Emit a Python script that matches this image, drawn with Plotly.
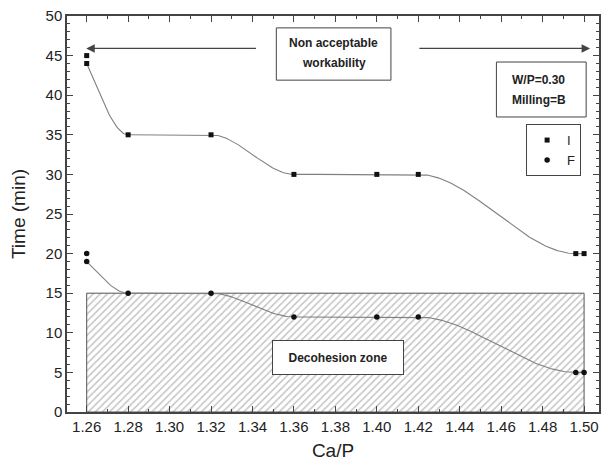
import numpy as np
import plotly.graph_objects as go

# Setting time of the cement paste versus Ca/P ratio (W/P = 0.30, milling B)
ca_p_I = [1.26, 1.26, 1.28, 1.32, 1.36, 1.40, 1.42, 1.496, 1.50]
time_I = [45, 44, 35, 35, 30, 30, 30, 20, 20]          # initial setting time (min)
ca_p_F = [1.26, 1.26, 1.28, 1.32, 1.36, 1.40, 1.42, 1.496, 1.50]
time_F = [20, 19, 15, 15, 12, 12, 12, 5, 5]            # final setting time (min)

x_ticks = [1.26, 1.28, 1.30, 1.32, 1.34, 1.36, 1.38, 1.40, 1.42, 1.44, 1.46, 1.48, 1.50]
y_ticks = [0, 5, 10, 15, 20, 25, 30, 35, 40, 45, 50]

decohesion_x = [1.26, 1.50]   # extent of the decohesion zone along Ca/P
decohesion_limit = 15         # time (min) below which the paste decoheres

FONT = "Liberation Sans, Arial, sans-serif"
INK = "#222222"
AXIS = "#444444"


def pchip(x, y, xs):
    """Shape-preserving piecewise cubic Hermite interpolation."""
    x = np.asarray(x, float)
    y = np.asarray(y, float)
    h = np.diff(x)
    d = np.diff(y) / h
    n = len(x)
    m = np.zeros(n)
    for k in range(1, n - 1):
        if d[k - 1] * d[k] > 0:
            w1 = 2 * h[k] + h[k - 1]
            w2 = h[k] + 2 * h[k - 1]
            m[k] = (w1 + w2) / (w1 / d[k - 1] + w2 / d[k])

    def end_slope(h0, h1, d0, d1):
        s = ((2 * h0 + h1) * d0 - h0 * d1) / (h0 + h1)
        if np.sign(s) != np.sign(d0):
            return 0.0
        if np.sign(d0) != np.sign(d1) and abs(s) > 3 * abs(d0):
            return 3 * d0
        return s

    m[0] = end_slope(h[0], h[1], d[0], d[1])
    m[-1] = end_slope(h[-1], h[-2], d[-1], d[-2])
    xs = np.asarray(xs, float)
    idx = np.clip(np.searchsorted(x, xs) - 1, 0, n - 2)
    t = (xs - x[idx]) / h[idx]
    h00 = 2 * t**3 - 3 * t**2 + 1
    h10 = t**3 - 2 * t**2 + t
    h01 = -2 * t**3 + 3 * t**2
    h11 = t**3 - t**2
    return (h00 * y[idx] + h10 * h[idx] * m[idx]
            + h01 * y[idx + 1] + h11 * h[idx] * m[idx + 1])


def curve(xv, yv):
    # one value per Ca/P (the last one listed), then a smooth fit through them
    pts = {}
    for a, b in zip(xv, yv):
        pts[a] = b
    xu = sorted(pts)
    yu = [pts[a] for a in xu]
    xs = np.linspace(xu[0], xu[-1], 400)
    return xs, pchip(xu, yu, xs)


fig = go.Figure()

# hatched decohesion zone
fig.add_trace(go.Scatter(
    x=[decohesion_x[0], decohesion_x[1], decohesion_x[1], decohesion_x[0], decohesion_x[0]],
    y=[0, 0, decohesion_limit, decohesion_limit, 0],
    mode="lines", fill="toself", fillcolor="white",
    fillpattern=dict(shape="/", fgcolor="#8a8a8a", bgcolor="white", size=5, solidity=0.3),
    line=dict(color="#555555", width=1),
    showlegend=False, hoverinfo="skip",
))

for xv, yv in ((ca_p_I, time_I), (ca_p_F, time_F)):
    cx, cy = curve(xv, yv)
    fig.add_trace(go.Scatter(x=cx, y=cy, mode="lines",
                             line=dict(color="#808080", width=1.1),
                             showlegend=False, hoverinfo="skip"))

fig.add_trace(go.Scatter(x=ca_p_I, y=time_I, mode="markers", name="I",
                         marker=dict(symbol="square", size=5, color="#111111")))
fig.add_trace(go.Scatter(x=ca_p_F, y=time_F, mode="markers", name="F",
                         marker=dict(symbol="circle", size=5.5, color="#111111")))

annotations = []
shapes = []

# "Non acceptable workability" label with arrows to both ends of the range
shapes.append(dict(type="rect", xref="x", yref="y", x0=1.3515, x1=1.4068, y0=41.9, y1=48.5,
                   line=dict(color=AXIS, width=1), fillcolor="white", layer="above"))
for txt, yy in (("Non acceptable", 46.6), ("workability", 44.1)):
    annotations.append(dict(x=1.3792, y=yy, xref="x", yref="y", text=txt, showarrow=False,
                            font=dict(family=FONT, size=12, color=INK, weight="bold")))
annotations.append(dict(x=1.2598, y=45.9, ax=1.3424, ay=45.9, xref="x", yref="y",
                        axref="x", ayref="y", text="", showarrow=True, arrowhead=2,
                        arrowsize=1.3, arrowwidth=1.3, arrowcolor="#444444"))
annotations.append(dict(x=1.5029, y=45.9, ax=1.4198, ay=45.9, xref="x", yref="y",
                        axref="x", ayref="y", text="", showarrow=True, arrowhead=2,
                        arrowsize=1.3, arrowwidth=1.3, arrowcolor="#444444"))

# experimental conditions
shapes.append(dict(type="rect", xref="x", yref="y", x0=1.4577, x1=1.5010, y0=37.25, y1=44.19,
                   line=dict(color=AXIS, width=1), fillcolor="white", layer="above"))
for txt, yy in (("W/P=0.30", 41.9), ("Milling=B", 39.4)):
    annotations.append(dict(x=1.4644, y=yy, xref="x", yref="y", text=txt, showarrow=False,
                            xanchor="left",
                            font=dict(family=FONT, size=12, color=INK, weight="bold")))

# decohesion zone label
annotations.append(dict(x=1.3813, y=6.9, xref="x", yref="y", text="Decohesion zone",
                        showarrow=False, bgcolor="white", bordercolor=AXIS, borderwidth=1,
                        width=128, height=31, borderpad=1,
                        font=dict(family=FONT, size=12, color=INK, weight="bold")))

axis_common = dict(
    showline=True, linecolor=AXIS, linewidth=1.5, mirror="ticks",
    ticks="inside", ticklen=6, tickwidth=1, tickcolor=AXIS,
    showgrid=False, zeroline=False,
    tickfont=dict(family=FONT, size=15, color=INK),
)

fig.update_layout(
    width=605, height=469,
    margin=dict(l=67, r=4, t=16, b=57),
    paper_bgcolor="white", plot_bgcolor="white",
    font=dict(family=FONT, color=INK),
    xaxis=dict(**axis_common, range=[1.2505, 1.5072], tickmode="array", tickvals=x_ticks,
               ticktext=[f"{v:.2f}" for v in x_ticks],
               minor=dict(dtick=0.01, tick0=1.25, ticks="inside", ticklen=3, tickcolor=AXIS),
               title=dict(text="Ca/P", font=dict(family=FONT, size=19, color=INK), standoff=10)),
    yaxis=dict(**axis_common, range=[0, 50], tickmode="array", tickvals=y_ticks,
               minor=dict(dtick=1, tick0=0, ticks="inside", ticklen=3, tickcolor=AXIS),
               title=dict(text="Time (min)", font=dict(family=FONT, size=19, color=INK), standoff=15)),
    legend=dict(x=0.863, y=0.727, xanchor="left", yanchor="top",
                bgcolor="white", bordercolor=AXIS, borderwidth=1,
                font=dict(family=FONT, size=13, color=INK), itemwidth=30),
    annotations=annotations,
    shapes=shapes,
)

fig.write_html("out.html")
